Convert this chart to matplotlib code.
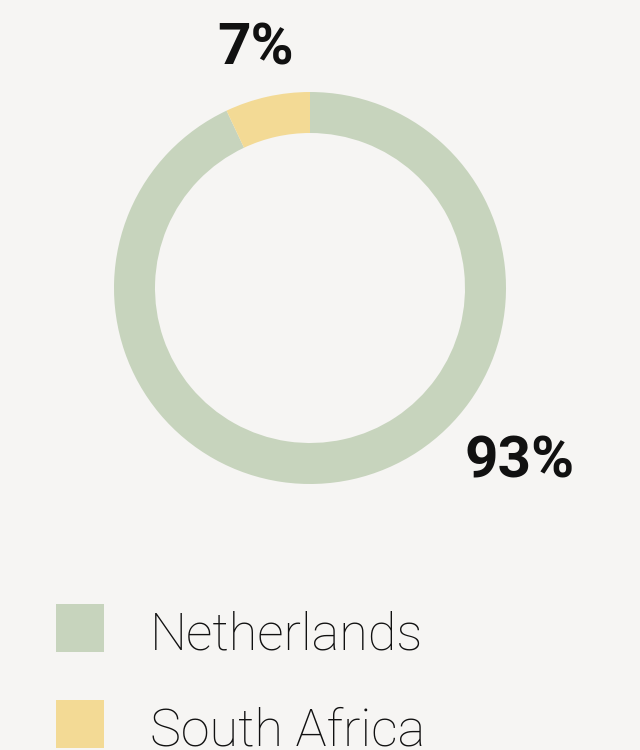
import matplotlib
matplotlib.use("Agg")
import matplotlib.pyplot as plt
from matplotlib.patches import Rectangle

countries = ["Netherlands", "South Africa"]
shares = [93, 7]
labels = ["93%", "7%"]
colors = ["#c7d4bd", "#f3da95"]

BG = "#f6f5f3"
W, H = 640, 750

fig = plt.figure(figsize=(W / 100, H / 100), dpi=100, facecolor=BG)
ax = fig.add_axes([0, 0, 1, 1])
ax.set_facecolor(BG)

# donut, centre/radius in pixel units (y measured from bottom)
cx, cy, r = 310, H - 288, 196
ax.pie(shares, colors=colors, startangle=90, counterclock=False,
       center=(cx, cy), radius=r, frame=True,
       wedgeprops=dict(width=41, linewidth=0))

ax.set_xlim(0, W)
ax.set_ylim(0, H)
ax.set_aspect("equal")
ax.axis("off")

# percentage labels
bold = dict(family=["Roboto", "DejaVu Sans"], weight="bold", fontsize=42,
            color="#111111", ha="center", va="center")
ax.text(520, H - 462, labels[0], **bold)
ax.text(256, H - 49, labels[1], **bold)

# legend
for i, (name, c) in enumerate(zip(countries, colors)):
    top = 604 + 96 * i
    ax.add_patch(Rectangle((56, H - top - 48), 48, 48, color=c, lw=0))
    ax.text(150, H - (649 + 96 * i), name, family=["Roboto", "DejaVu Sans"],
            weight="light", fontsize=37.5, color="#111111",
            ha="left", va="baseline")

fig.savefig("out.png", dpi=100, facecolor=BG)
